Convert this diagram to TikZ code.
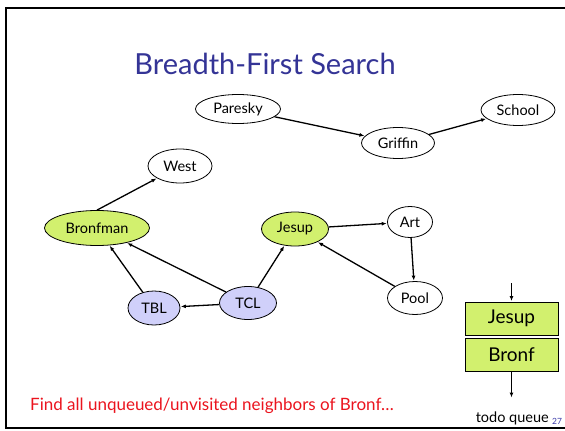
\documentclass[tikz,border=0pt]{standalone}
\usepackage{fontspec}
\setmainfont{Lato}
\usetikzlibrary{shapes.geometric,arrows.meta}
\definecolor{titleblue}{RGB}{52,52,150}
\definecolor{visitgreen}{RGB}{210,240,110}
\definecolor{queuelav}{RGB}{208,208,250}
\definecolor{alertred}{RGB}{235,20,30}
\definecolor{pageblue}{RGB}{60,60,170}
\begin{document}
\begin{tikzpicture}[x=1pt,y=-1pt,
  place/.style={ellipse,draw=black,line width=0.8pt,inner sep=0pt,
    font=\fontsize{14.5}{16}\selectfont},
  seen/.style={place,fill=visitgreen},
  waiting/.style={place,fill=queuelav},
  link/.style={-{Latex[length=5pt,width=4pt]},line width=1.3pt,shorten >=0.5pt},
  qbox/.style={draw=black,line width=0.9pt,fill=visitgreen,minimum width=93pt,
    minimum height=33pt,inner sep=0pt,font=\fontsize{19}{22}\selectfont}]
\useasboundingbox (0,0) rectangle (565,431);
\fill[white] (0,0) rectangle (565,431);
% slide frame
\draw[line width=2.6pt] (567,8) -- (6,8) -- (6,428) -- (567,428);
% title
\node[text=titleblue,font=\fontsize{29}{32}\selectfont,anchor=base] (title) at (265,74) {Breadth-First Search};
% places
\node[place,minimum width=85pt,minimum height=29pt] (paresky) at (238,109) {Paresky};
\node[place,minimum width=73pt,minimum height=31pt] (griffin) at (398,143) {Griffin};
\node[place,minimum width=74pt,minimum height=31pt] (school) at (518,110) {School};
\node[place,minimum width=64pt,minimum height=34pt] (west) at (180,166) {West};
\node[seen,minimum width=105pt,minimum height=35pt] (bronfman) at (97,228) {Bronfman};
\node[seen,minimum width=67pt,minimum height=34pt] (jesup) at (295,229) {Jesup};
\node[waiting,minimum width=52pt,minimum height=34pt] (tbl) at (154,308) {TBL};
\node[waiting,minimum width=57pt,minimum height=33pt] (tcl) at (248,303) {TCL};
\node[place,minimum width=45pt,minimum height=31pt] (art) at (410,222) {Art};
\node[place,minimum width=55pt,minimum height=33pt] (pool) at (415,298) {Pool};
% edges
\draw[link] (paresky) -- (griffin);
\draw[link] (griffin) -- (school);
\draw[link] (bronfman.north) -- (west);
\draw[link] (tbl) -- (bronfman);
\draw[link] (tcl) -- (bronfman);
\draw[link] (tcl) -- (tbl);
\draw[link] (tcl) -- (jesup);
\draw[link] (jesup) -- (art);
\draw[link] (art) -- (pool);
\draw[link] (pool) -- (jesup);
% todo queue
\node[qbox] (qjesup) at (511.5,318.5) {Jesup};
\node[qbox] (qbronf) at (511.5,355) {Bronf};
\coordinate (qin) at (511.5,283);
\coordinate (qout) at (511.5,398);
\draw[link] (qin) -- (qjesup.north);
\draw[link] (qbronf.south) -- (qout);
\node[font=\fontsize{14.5}{16}\selectfont,anchor=base east,inner sep=0pt] (qlabel) at (549,422) {todo queue};
\node[font=\fontsize{8.5}{10}\selectfont,text=pageblue,anchor=base west,inner sep=0pt] (pagenum) at (552,424) {27};
% note
\node[font=\fontsize{17}{20}\selectfont,text=alertred,anchor=base west,inner sep=0pt] (note) at (30,410) {Find all unqueued/unvisited neighbors of Bronf…};
\end{tikzpicture}
\end{document}
